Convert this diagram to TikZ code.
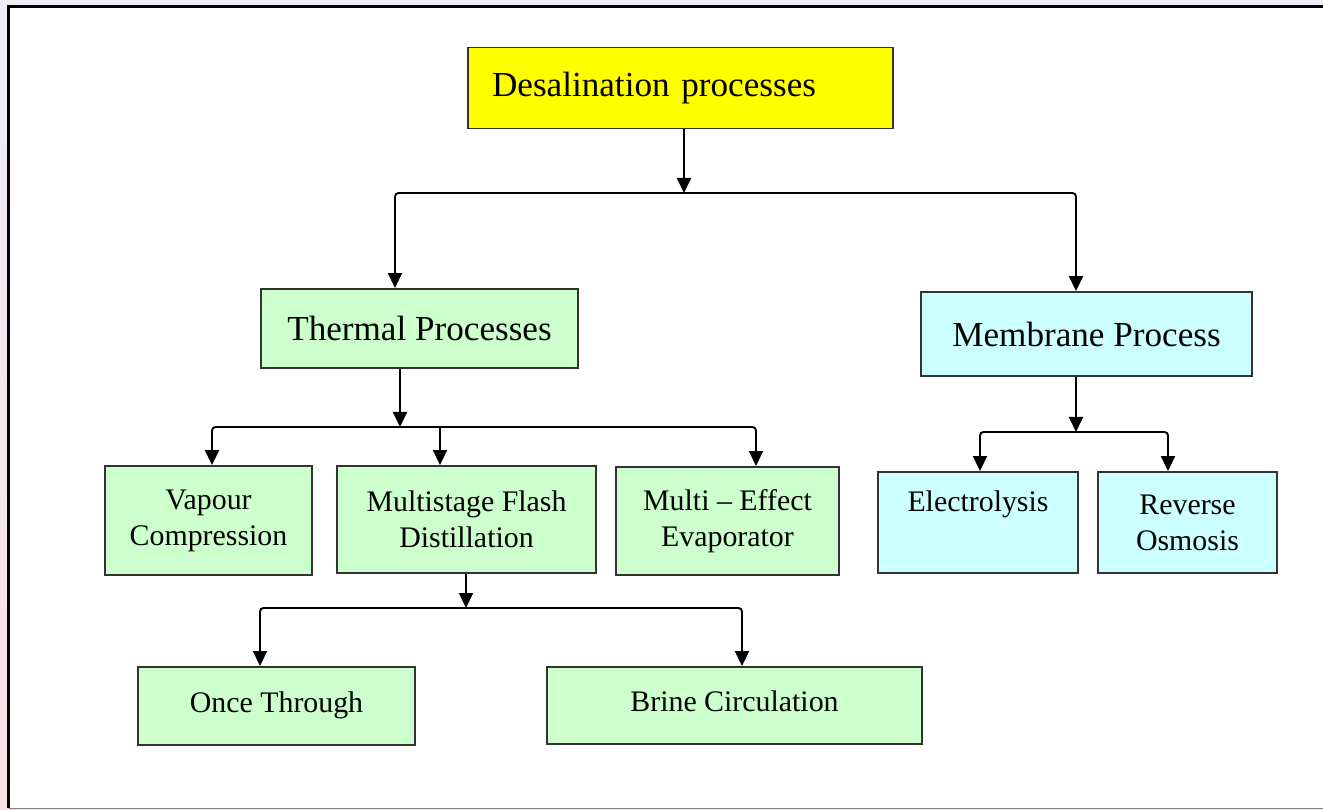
\documentclass[tikz,border=0pt]{standalone}
\usepackage{fontspec}
\setmainfont{Liberation Serif}
\usepackage{tikz}
\usetikzlibrary{arrows.meta, positioning}
\definecolor{Lemon}{RGB}{255, 255, 0}
\definecolor{Mint}{RGB}{204, 255, 204}
\definecolor{Ice}{RGB}{204, 255, 255}
\definecolor{Frame}{RGB}{51, 51, 51}
\definecolor{Haze}{RGB}{238, 238, 246}
\definecolor{Blush}{RGB}{248, 224, 228}

\begin{document}
\begin{tikzpicture}[
    x=0.02cm, y=-0.02cm,
    box/.style={draw=Frame, line width=1.1pt, align=center, inner sep=0pt,
                font=\fontsize{17}{20.5}\selectfont},
    bigbox/.style={box, font=\fontsize{20}{24}\selectfont},
    conn/.style={line width=1.1pt, rounded corners=2pt},
    arr/.style={conn, -{Triangle[width=0.28cm, length=0.3cm]}}
    ]
    % page and frame
    \useasboundingbox (0,0) rectangle (1323,810);
    \shade[top color=Haze, bottom color=Blush] (0,0) rectangle (1323,810);
    \fill[white] (8.5,6.5) rectangle (1323,808);
    \draw[gray, line width=0.5pt] (8.5,808) -- (1323,808);
    \draw[line width=0.06cm] (8.5,808) -- (8.5,6.5) -- (1323,6.5);

    % level 0 and 1
    \node[bigbox, fill=Lemon, minimum width=8.5cm, minimum height=1.62cm,
          text width=7.54cm, align=left] (desal) at (680.5,88)
          {Desalination processes};
    \node[bigbox, fill=Mint, minimum width=6.34cm, minimum height=1.58cm]
          (thermal) at (419.5,328.5) {Thermal Processes};
    \node[bigbox, fill=Ice, minimum width=6.62cm, minimum height=1.68cm]
          (membrane) at (1086.5,334) {Membrane Process};

    % level 2
    \node[box, fill=Mint, minimum width=4.14cm, minimum height=2.18cm]
          (vapour) at (208.5,520.5) {Vapour\\Compression};
    \node[box, fill=Mint, minimum width=5.18cm, minimum height=2.14cm]
          (msf) at (466.5,519.5) {Multistage Flash\\Distillation};
    \node[box, fill=Mint, minimum width=4.46cm, minimum height=2.16cm]
          (mee) at (727.5,521) {Multi -- Effect\\Evaporator};
    \node[box, fill=Ice, minimum width=4.0cm, minimum height=2.02cm]
          (electro) at (978,522.5) {\raisebox{-0.08cm}{Electrolysis}\\\strut};
    \node[box, fill=Ice, minimum width=3.58cm, minimum height=2.02cm]
          (ro) at (1187.5,522.5) {Reverse\\Osmosis};

    % level 3
    \node[box, fill=Mint, minimum width=5.54cm, minimum height=1.56cm]
          (once) at (276.5,706) {\raisebox{0.16cm}{Once Through}};
    \node[box, fill=Mint, minimum width=7.5cm, minimum height=1.54cm]
          (brine) at (734.5,705.5) {\raisebox{0.16cm}{Brine Circulation}};

    % junctions
    \coordinate (j0)  at (684,193);
    \coordinate (j0l) at (395,193);
    \coordinate (j0r) at (1076,193);
    \coordinate (j1)  at (400,427);
    \coordinate (j1l) at (212,427);
    \coordinate (j1m) at (440,427);
    \coordinate (j1r) at (756,427);
    \coordinate (j2)  at (1076,432);
    \coordinate (j2l) at (980,432);
    \coordinate (j2r) at (1168,432);
    \coordinate (j3)  at (466,608);
    \coordinate (j3l) at (260,608);
    \coordinate (j3r) at (742,608);

    % connectors
    \draw[arr] (desal.south -| j0) -- (j0);
    \draw[arr] (j0) -| (j0l |- thermal.north);
    \draw[arr] (j0) -| (j0r |- membrane.north);

    \draw[arr] (thermal.south -| j1) -- (j1);
    \draw[arr] (j1) -| (j1l |- vapour.north);
    \draw[arr] (j1m) -- (j1m |- msf.north);
    \draw[arr] (j1) -| (j1r |- mee.north);

    \draw[arr] (membrane.south -| j2) -- (j2);
    \draw[arr] (j2) -| (j2l |- electro.north);
    \draw[arr] (j2) -| (j2r |- ro.north);

    \draw[arr] (msf.south -| j3) -- (j3);
    \draw[arr] (j3) -| (j3l |- once.north);
    \draw[arr] (j3) -| (j3r |- brine.north);
\end{tikzpicture}
\end{document}
